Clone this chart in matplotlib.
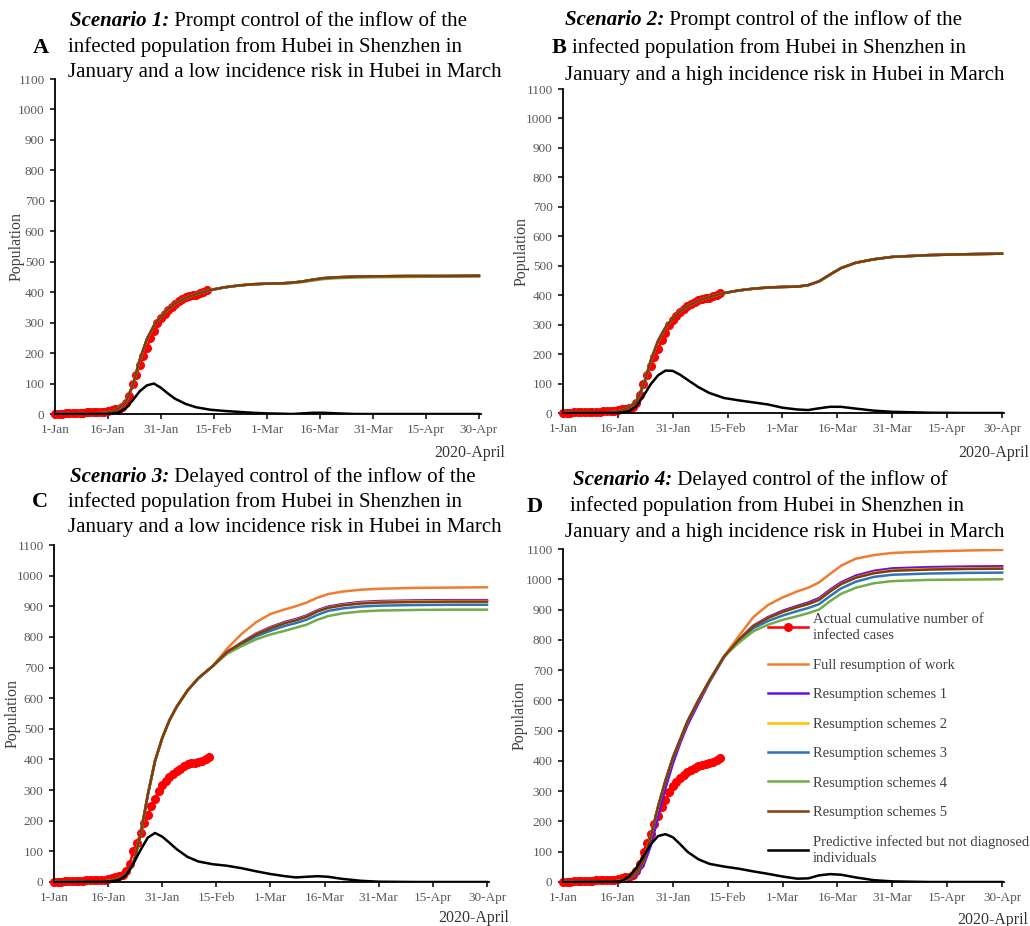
import matplotlib
matplotlib.use("Agg")
import matplotlib.pyplot as plt

plt.rcParams['font.family'] = ['Liberation Serif', 'DejaVu Serif']

W, H = 1030, 926

# day index counted from 1-Jan-2020
tick_days = [0, 15, 30, 45, 60, 75, 90, 105, 120]
tick_labels = ['1-Jan', '16-Jan', '31-Jan', '15-Feb', '1-Mar', '16-Mar',
               '31-Mar', '15-Apr', '30-Apr']

days_actual = list(range(44))
actual_cases = [0, 1, 1, 2, 2, 3, 3, 4, 4, 5,
                5, 6, 6, 7, 8, 10, 12, 15, 18, 22,
                35, 60, 100, 128, 160, 191, 218, 248, 272, 298,
                316, 330, 342, 352, 362, 370, 378, 384, 387, 390,
                392, 396, 402, 408]

days_model = [0, 14, 16, 18, 20, 22, 24, 26, 28, 30, 32, 34, 37, 40, 44,
              48, 52, 56, 60, 64, 67, 70, 73, 76, 80, 85, 90, 100, 110, 120]

series_names = ['Full resumption of work', 'Resumption schemes 1',
                'Resumption schemes 2', 'Resumption schemes 3',
                'Resumption schemes 4', 'Resumption schemes 5']
series_colors = ['#ED7D31', '#6611DD', '#FFC000', '#2E75B6', '#70AD47', '#843C0C']

# scenario 1
s1_base = [0, 3, 8, 18, 38, 94, 178, 245, 290, 320, 345, 363, 381, 394, 407,
           416, 422, 426, 428, 429, 431, 435, 441, 446, 449, 451, 452, 453, 453, 454]
s1_green = [0, 3, 8, 18, 38, 94, 178, 245, 290, 320, 345, 363, 381, 394, 407,
            416, 422, 426, 428, 429, 430, 433, 438, 443, 446, 448, 449, 450, 451, 451]
s1_black = [0, 0, 1, 5, 18, 45, 75, 94, 100, 86, 67, 50, 33, 22, 14,
            10, 7, 4, 2, 1, 0, 2, 4, 4, 2, 0, 0, 0, 0, 0]

# scenario 2
s2_base = [0, 3, 8, 18, 38, 94, 178, 245, 290, 320, 345, 363, 381, 394, 407,
           416, 422, 426, 428, 429, 434, 447, 470, 492, 510, 522, 530, 536, 539, 541]
s2_black = [0, 0, 1, 6, 22, 58, 98, 128, 144, 143, 130, 113, 88, 68, 51,
            43, 36, 29, 18, 12, 10, 16, 21, 21, 15, 8, 4, 1, 0, 0]

# scenario 3
s3_early = [0, 2, 5, 12, 22, 60, 155, 285, 395, 470, 528, 572, 625, 665, 705]
s3_full = s3_early + [762, 810, 848, 875, 890, 900, 912, 928, 940, 948, 954, 957, 960, 961, 962]
s3_r1 = s3_early + [752, 782, 811, 832, 849, 858, 870, 887, 899, 907, 914, 917, 919, 920, 920]
s3_r2 = s3_early + [751, 780, 809, 829, 846, 855, 867, 884, 896, 904, 911, 914, 916, 917, 917]
s3_r3 = s3_early + [749, 776, 802, 820, 836, 845, 856, 872, 885, 893, 899, 902, 904, 905, 905]
s3_r4 = s3_early + [745, 770, 792, 808, 820, 830, 840, 856, 868, 877, 883, 886, 888, 889, 889]
s3_r5 = s3_early + [751, 780, 808, 828, 845, 854, 866, 883, 895, 903, 909, 912, 914, 915, 915]
s3_black = [0, 1, 2, 6, 22, 60, 105, 145, 160, 148, 128, 107, 82, 67, 58,
            53, 45, 35, 26, 19, 15, 17, 19, 17, 10, 4, 1, 0, 0, 0]

# scenario 4
s4_early = [0, 2, 5, 12, 28, 70, 150, 250, 335, 410, 470, 530, 600, 665, 745]
s4_early_r1 = [0, 2, 4, 10, 22, 55, 120, 215, 310, 390, 458, 518, 590, 660, 742]
s4_full = s4_early + [812, 875, 915, 940, 960, 972, 990, 1018, 1045, 1068, 1080, 1087, 1092, 1095, 1097]
s4_r1 = s4_early_r1 + [800, 847, 875, 896, 912, 923, 938, 966, 990, 1012, 1028, 1036, 1040, 1042, 1043]
s4_r2 = s4_early + [800, 845, 872, 892, 908, 918, 933, 961, 985, 1006, 1022, 1030, 1034, 1036, 1037]
s4_r3 = s4_early + [795, 838, 862, 880, 895, 905, 918, 945, 970, 992, 1008, 1015, 1019, 1021, 1022]
s4_r4 = s4_early + [790, 828, 850, 866, 878, 888, 900, 928, 952, 972, 987, 994, 998, 999, 1000]
s4_r5 = s4_early + [800, 845, 872, 892, 908, 918, 932, 960, 984, 1005, 1020, 1028, 1032, 1034, 1035]
s4_black = [0, 1, 3, 18, 45, 85, 125, 152, 158, 148, 125, 100, 75, 60, 51,
            44, 35, 27, 18, 11, 12, 22, 26, 24, 15, 6, 2, 0, 0, 0]

panels = [
    dict(letter='A', box=(55, 79, 480.7, 414),
         schemes=[s1_base, s1_base, s1_base, s1_base, s1_green, s1_base], black=s1_black,
         bold='Scenario 1:', lines=[' Prompt control of the inflow of the',
                                    'infected population from Hubei in Shenzhen in',
                                    'January and a low incidence risk in Hubei in March'],
         tx=[70, 68, 68], ty=[26, 52, 77], lx=33, ly=53, ylab_x=17, year=(505, 453)),
    dict(letter='B', box=(563, 89, 1003.8, 413),
         schemes=[s2_base] * 6, black=s2_black,
         bold='Scenario 2:', lines=[' Prompt control of the inflow of the',
                                    'infected population from Hubei in Shenzhen in',
                                    'January and a high incidence risk in Hubei in March'],
         tx=[565, 572, 565], ty=[25, 53, 80], lx=552, ly=53, ylab_x=522, year=(1029, 453)),
    dict(letter='C', box=(54, 545, 488.8, 882),
         schemes=[s3_full, s3_r1, s3_r2, s3_r3, s3_r4, s3_r5], black=s3_black,
         bold='Scenario 3:', lines=[' Delayed control of the inflow of the',
                                    'infected population from Hubei in Shenzhen in',
                                    'January and a low incidence risk in Hubei in March'],
         tx=[70, 68, 68], ty=[482, 507, 532], lx=32, ly=507, ylab_x=13, year=(509, 918)),
    dict(letter='D', box=(563, 549, 1004, 882),
         schemes=[s4_full, s4_r1, s4_r2, s4_r3, s4_r4, s4_r5], black=s4_black,
         bold='Scenario 4:', lines=[' Delayed control of the inflow of',
                                    'infected population from Hubei in Shenzhen in',
                                    'January and a high incidence risk in Hubei in March'],
         tx=[573, 570, 565], ty=[485, 511, 537], lx=527, ly=512, ylab_x=520, year=(1028, 920)),
]

fig = plt.figure(figsize=(W / 100, H / 100), dpi=100)
renderer = fig.canvas.get_renderer()

for p in panels:
    l, t, r, b = p['box']
    ax = fig.add_axes([l / W, 1 - b / H, (r - l) / W, (b - t) / H])

    ax.plot(days_actual, actual_cases, color='#FF0000', lw=1.8, marker='o',
            markersize=5.5, clip_on=False, zorder=2,
            label='Actual cumulative number of\ninfected cases')
    for vals, name, col in zip(p['schemes'], series_names, series_colors):
        ax.plot(days_model, vals, color=col, lw=1.8, label=name, zorder=3)
    ax.plot(days_model, p['black'], color='black', lw=1.8, zorder=4,
            label='Predictive infected but not diagnosed\nindividuals')

    ax.set_xlim(0, 120.5)
    ax.set_ylim(0, 1100)
    ax.set_yticks(range(0, 1101, 100))
    ax.set_xticks(tick_days)
    ax.set_xticklabels(tick_labels)
    ax.tick_params(labelsize=9.5, labelcolor='#595959', length=3.5, width=1.1)
    ax.tick_params(axis='y', pad=4)
    for side in ['top', 'right']:
        ax.spines[side].set_visible(False)
    for side in ['left', 'bottom']:
        ax.spines[side].set_linewidth(1.3)

    fig.text(p['ylab_x'] / W, 1 - (t + b) / 2 / H, 'Population', rotation=90,
             ha='center', va='center', fontsize=11.5, color='#404040')
    yx, yy = p['year']
    fig.text(yx / W, 1 - yy / H, '2020-April', ha='right', va='center',
             fontsize=11.4, color='#333333')

    # panel letter and three-line title
    fig.text(p['lx'] / W, 1 - p['ly'] / H, p['letter'], fontsize=16,
             fontweight='bold', va='baseline')
    t1 = fig.text(p['tx'][0] / W, 1 - p['ty'][0] / H, p['bold'], fontsize=15,
                  fontweight='bold', fontstyle='italic', va='baseline')
    bb = t1.get_window_extent(renderer)
    fig.text(bb.x1 / fig.bbox.width, 1 - p['ty'][0] / H, p['lines'][0],
             fontsize=15, va='baseline')
    for line, xl, yb in zip(p['lines'][1:], p['tx'][1:], p['ty'][1:]):
        fig.text(xl / W, 1 - yb / H, line, fontsize=15, va='baseline')

    if p['letter'] == 'D':
        leg = ax.legend(loc='upper left', bbox_to_anchor=(768 / W, 1 - 613 / H),
                        bbox_transform=fig.transFigure, frameon=False, fontsize=10.5,
                        labelcolor='#404040', handlelength=2.75, handletextpad=0.35,
                        labelspacing=1.11, borderpad=0, borderaxespad=0, numpoints=1)
        for txt in leg.get_texts():
            txt.set_linespacing(1.3)

fig.savefig('out.png', dpi=100)
